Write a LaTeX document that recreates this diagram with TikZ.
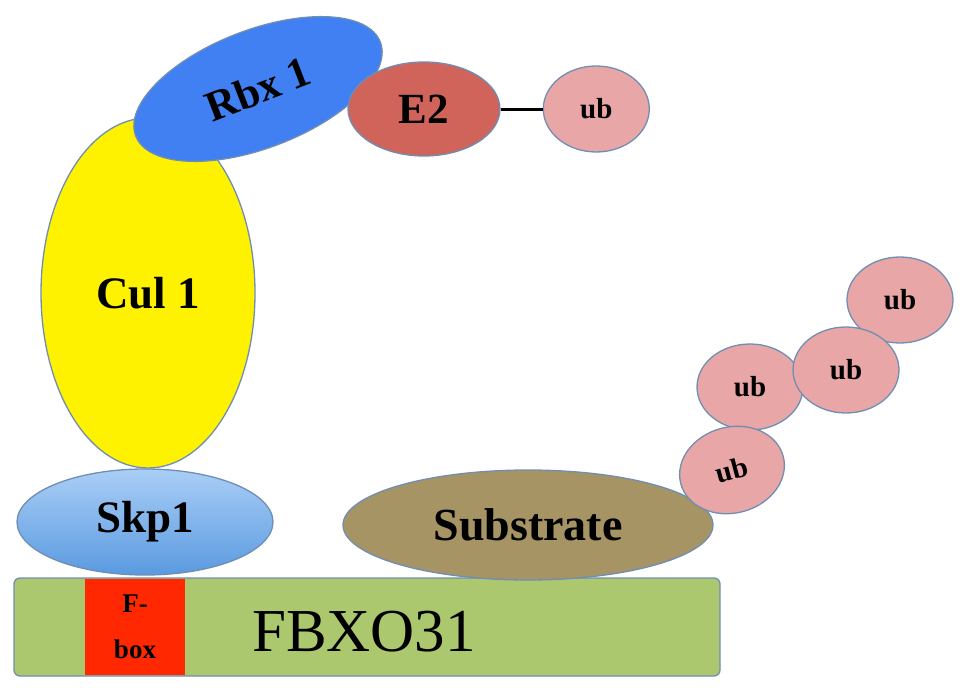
\documentclass[tikz,border=0pt]{standalone}
\usepackage{fontspec}
\setmainfont{Liberation Serif}
\usetikzlibrary{positioning,shapes.geometric}

\definecolor{edgeblue}{RGB}{112,142,180}
\definecolor{rbxblue}{RGB}{64,128,242}
\definecolor{etwored}{RGB}{208,100,90}
\definecolor{ubpink}{RGB}{232,166,166}
\definecolor{subolive}{RGB}{166,148,100}
\definecolor{barsgreen}{RGB}{172,200,110}
\definecolor{fboxred}{RGB}{255,40,0}
\definecolor{skptop}{RGB}{170,206,246}
\definecolor{skpbottom}{RGB}{90,154,224}

\begin{document}
\begin{tikzpicture}[
    x=1pt, y=-1pt,
    protein/.style={
        ellipse,
        draw=edgeblue,
        line width=1.3pt,
        inner sep=0pt,
        font=\bfseries\fontsize{45}{50}\selectfont
    },
    ubq/.style={
        protein,
        fill=ubpink,
        minimum width=106,
        minimum height=86,
        font=\bfseries\fontsize{29}{32}\selectfont
    },
    bar/.style={
        draw=edgeblue,
        line width=1.3pt,
        rounded corners=6pt,
        fill=barsgreen,
        inner sep=0pt
    },
    link/.style={line width=3pt}
]
\useasboundingbox (0,0) rectangle (969,693);

% cullin scaffold
\node[protein, fill=yellow, minimum width=214, minimum height=350] (cul) at (148,293) {Cul 1};

\node[protein, fill=rbxblue, rotate=21, minimum width=262, minimum height=118,
      font=\bfseries\fontsize{43}{48}\selectfont] (rbx) at (258,89) {Rbx 1};

\node[protein, fill=etwored, minimum width=152, minimum height=94,
      font=\bfseries\fontsize{43}{48}\selectfont] (etwo) at (424,109) {E2};
\node[ubq, right=42 of etwo] (ubfree) {ub};
\draw[link] (etwo) -- (ubfree);

\node[protein, top color=skptop, bottom color=skpbottom, minimum width=256, minimum height=106] (skp) at (145,522) {Skp1};

% F-box protein
\node[bar, minimum width=706, minimum height=98] (fbxo) at (367,627) {};
\node[fill=fboxred, minimum width=100, minimum height=96, inner sep=0pt,
      align=center, font=\bfseries\fontsize{27}{46}\selectfont] (fbox) at (135,627) {F-\\box};
\node[font=\fontsize{61}{64}\selectfont] (fbxolabel) at (364,632) {FBXO31};

% substrate and ub chain
\node[protein, fill=subolive, minimum width=370, minimum height=110,
      font=\bfseries\fontsize{46}{50}\selectfont] (sub) at (528,525) {Substrate};

\node[ubq] (ubb) at (750,387) {ub};
\node[ubq, rotate=15] (uba) at (732,470) {ub};
\node[ubq] (ubd) at (900,300) {ub};
\node[ubq] (ubc) at (846,370) {ub};

\end{tikzpicture}
\end{document}
